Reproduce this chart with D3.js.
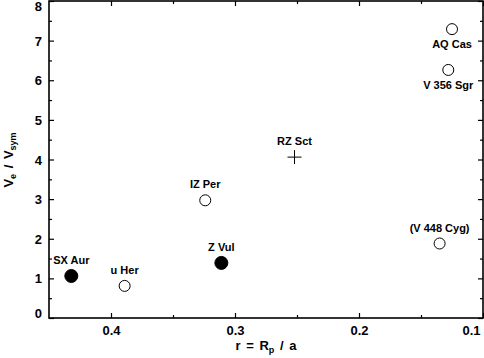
<!DOCTYPE html>
<html>
<head>
<meta charset="utf-8">
<script src="https://cdn.jsdelivr.net/npm/d3@7"></script>
<style>
  body { margin: 0; background: #fff; }
  text { font-family: "Liberation Sans", Arial, sans-serif; font-weight: bold; fill: #000; }
</style>
</head>
<body>
<div id="chart"></div>
<script>
// star names, orbit ratio r = Rp / a, and Ve / Vsym
const stars = ["SX Aur", "u Her", "Z Vul", "IZ Per", "RZ Sct", "AQ Cas", "V 356 Sgr", "(V 448 Cyg)"];
const rValues = [0.432, 0.389, 0.311, 0.324, 0.252, 0.125, 0.128, 0.135];
const velRatio = [1.06, 0.81, 1.39, 2.97, 4.06, 7.29, 6.26, 1.88];
const markers = ["filled", "open", "filled", "open", "cross", "open", "open", "open"];

const xMajor = [0.4, 0.3, 0.2, 0.1];
const xMinor = [0.35, 0.25, 0.15];
const yMajor = [0, 1, 2, 3, 4, 5, 6, 7, 8];
const yMinor = [0.5, 1.5, 2.5, 3.5, 4.5, 5.5, 6.5, 7.5];

const width = 484;
const height = 358;

const points = stars.map((s, i) => ({name: s, r: rValues[i], v: velRatio[i], m: markers[i]}));

let x = d3.scaleLinear()
  .domain([0.45, 0.1])
  .range([49, 483]);

let y = d3.scaleLinear()
  .domain([0, 8])
  .range([318, 1]);

const svg = d3.select("#chart")
  .append("svg")
  .attr("width", width)
  .attr("height", height);

// axes, ticks pointing into the plot
const bottom = svg.append("g")
  .attr("transform", "translate(0,318)")
  .call(d3.axisBottom(x).tickValues(xMajor).tickSize(-5).tickPadding(8).tickFormat(d3.format(".1f")));
svg.append("g")
  .attr("transform", "translate(0,318)")
  .call(d3.axisBottom(x).tickValues(xMinor).tickSize(-3).tickFormat(""));
svg.append("g")
  .attr("transform", "translate(0,1)")
  .call(d3.axisTop(x).tickValues(xMajor).tickSize(-5).tickFormat(""));
svg.append("g")
  .attr("transform", "translate(0,1)")
  .call(d3.axisTop(x).tickValues(xMinor).tickSize(-3).tickFormat(""));

const left = svg.append("g")
  .attr("transform", "translate(49,0)")
  .call(d3.axisLeft(y).tickValues(yMajor).tickSize(-5).tickPadding(7));
svg.append("g")
  .attr("transform", "translate(49,0)")
  .call(d3.axisLeft(y).tickValues(yMinor).tickSize(-3).tickFormat(""));
svg.append("g")
  .attr("transform", "translate(483,0)")
  .call(d3.axisRight(y).tickValues(yMajor).tickSize(-5).tickFormat(""));
svg.append("g")
  .attr("transform", "translate(483,0)")
  .call(d3.axisRight(y).tickValues(yMinor).tickSize(-3).tickFormat(""));

svg.selectAll(".domain").remove();
svg.selectAll(".tick line").attr("stroke", "#000").attr("stroke-width", 1.2);
svg.selectAll(".tick text").attr("font-size", 13).attr("font-family", null);

// keep end labels inside the picture
left.selectAll(".tick text").attr("dy", d => d === 0 ? "-0.05em" : d === 8 ? "0.75em" : "0.35em");
bottom.selectAll(".tick text")
  .filter((d, i, nodes) => i === nodes.length - 1)
  .attr("text-anchor", "end")
  .attr("x", -3);

// frame
svg.append("rect")
  .attr("x", 49)
  .attr("y", 1)
  .attr("width", 434)
  .attr("height", 317)
  .attr("fill", "none")
  .attr("stroke", "#000")
  .attr("stroke-width", 1.6);

// axis titles
const xt = svg.append("text")
  .attr("x", 266)
  .attr("y", 350)
  .attr("text-anchor", "middle")
  .attr("font-size", 13)
  .attr("word-spacing", 2);
xt.append("tspan").text("r = R");
xt.append("tspan").attr("font-size", 9).attr("dy", 3).text("p");
xt.append("tspan").attr("dy", -3).text(" / a");

const yt = svg.append("text")
  .attr("transform", "rotate(-90)")
  .attr("x", -160)
  .attr("y", 13)
  .attr("text-anchor", "middle")
  .attr("font-size", 13)
  .attr("word-spacing", 2);
yt.append("tspan").text("V");
yt.append("tspan").attr("font-size", 9).attr("dy", 3).text("e");
yt.append("tspan").attr("dy", -3).text(" / V");
yt.append("tspan").attr("font-size", 9).attr("dy", 3).text("sym");

// markers
svg.selectAll("circle")
  .data(points.filter(d => d.m !== "cross")).enter()
  .append("circle")
  .attr("cx", d => x(d.r))
  .attr("cy", d => y(d.v))
  .attr("r", d => d.m === "filled" ? 6.5 : 5.5)
  .attr("fill", d => d.m === "filled" ? "#000" : "#fff")
  .attr("stroke", "#000")
  .attr("stroke-width", 1);

points.filter(d => d.m === "cross").forEach(d => {
  svg.append("path")
    .attr("d", `M${x(d.r) - 7},${y(d.v)}H${x(d.r) + 7}M${x(d.r)},${y(d.v) - 7}V${y(d.v) + 7}`)
    .attr("stroke", "#000")
    .attr("stroke-width", 1);
});

// star names, two of them sit under their marker
const below = new Set(["AQ Cas", "V 356 Sgr"]);
svg.selectAll(".lbl")
  .data(points).enter()
  .append("text")
  .attr("class", "lbl")
  .attr("x", d => x(d.r))
  .attr("y", d => y(d.v) + (below.has(d.name) ? 19 : -12))
  .attr("text-anchor", "middle")
  .attr("font-size", 11)
  .text(d => d.name);
</script>
</body>
</html>
